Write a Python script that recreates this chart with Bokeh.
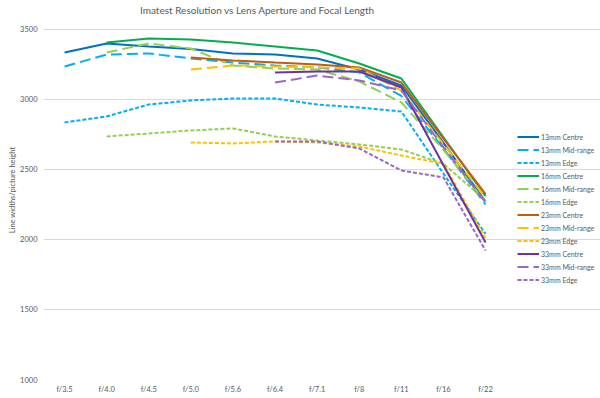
from bokeh.plotting import figure
from bokeh.models import Range1d, Legend, LegendItem, FixedTicker, Label
from bokeh.embed import file_html
from bokeh.resources import INLINE

nan = float("nan")

apertures = ["f/3.5", "f/4.0", "f/4.5", "f/5.0", "f/5.6", "f/6.4", "f/7.1", "f/8", "f/11", "f/16", "f/22"]

mm13_centre = [3336, 3400, 3379, 3360, 3329, 3321, 3293, 3214, 3100, 2690, 2270]
mm13_mid = [3236, 3321, 3329, 3293, 3264, 3243, 3229, 3193, 3025, 2650, 2250]
mm13_edge = [2836, 2879, 2964, 2993, 3007, 3007, 2964, 2943, 2914, 2470, 2040]
mm16_centre = [nan, 3407, 3436, 3429, 3407, 3379, 3350, 3257, 3150, 2730, 2310]
mm16_mid = [nan, 3336, 3400, 3364, 3243, 3221, 3214, 3129, 2979, 2640, 2270]
mm16_edge = [nan, 2736, 2757, 2779, 2793, 2736, 2707, 2679, 2643, 2540, 2280]
mm23_centre = [nan, nan, nan, 3300, 3279, 3264, 3250, 3229, 3121, 2720, 2325]
mm23_mid = [nan, nan, nan, 3214, 3243, 3236, 3229, 3221, 3064, 2680, 2300]
mm23_edge = [nan, nan, nan, 2693, 2686, 2700, 2693, 2664, 2600, 2540, 2010]
mm33_centre = [nan, nan, nan, nan, nan, 3193, 3200, 3200, 3086, 2530, 1979]
mm33_mid = [nan, nan, nan, nan, nan, 3121, 3171, 3136, 3064, 2660, 2265]
mm33_edge = [nan, nan, nan, nan, nan, 2700, 2700, 2650, 2493, 2443, 1921]

y_ticks = [1000, 1500, 2000, 2500, 3000, 3500]
title_text = "Imatest Resolution vs Lens Aperture and Focal Length"

series = [
    ("13mm Centre", mm13_centre, "#0070C0", "solid"),
    ("13mm Mid-range", mm13_mid, "#00B0F0", "11 5"),
    ("13mm Edge", mm13_edge, "#00B0F0", "4 2"),
    ("16mm Centre", mm16_centre, "#00B050", "solid"),
    ("16mm Mid-range", mm16_mid, "#92D050", "11 5"),
    ("16mm Edge", mm16_edge, "#92D050", "4 2"),
    ("23mm Centre", mm23_centre, "#C55A11", "solid"),
    ("23mm Mid-range", mm23_mid, "#FFC000", "11 5"),
    ("23mm Edge", mm23_edge, "#FFC000", "4 2"),
    ("33mm Centre", mm33_centre, "#7030A0", "solid"),
    ("33mm Mid-range", mm33_mid, "#9966CC", "11 5"),
    ("33mm Edge", mm33_edge, "#9966CC", "4 2"),
]

FONT = "Lato"
GREY = "#595959"

x_idx = list(range(len(apertures)))
n = len(apertures)
y_top = y_ticks[-1] + 207  # headroom above the top gridline for the title

p = figure(width=600, height=398, output_backend="svg", toolbar_location=None,
           x_range=Range1d(-0.5, n - 0.5 + 2.23),
           y_range=Range1d(y_ticks[0], y_top),
           min_border_left=43, min_border_right=0, min_border_top=0, min_border_bottom=19)

p.outline_line_color = None
p.background_fill_color = "white"
p.border_fill_color = "white"
p.xgrid.grid_line_color = None
p.ygrid.grid_line_color = "#D9D9D9"
p.ygrid.grid_line_width = 1
p.ygrid.bounds = (-0.5, n - 0.5)

p.xaxis.ticker = FixedTicker(ticks=x_idx)
p.xaxis.major_label_overrides = {i: a for i, a in zip(x_idx, apertures)}
p.yaxis.ticker = FixedTicker(ticks=y_ticks)
for ax in (p.xaxis, p.yaxis):
    ax.axis_line_color = None
    ax.major_tick_line_color = None
    ax.minor_tick_line_color = None
    ax.major_tick_out = 0
    ax.major_tick_in = 0
    ax.minor_tick_out = 0
    ax.minor_tick_in = 0
    ax.major_label_text_font = FONT
    ax.major_label_text_font_size = "7.5px"
    ax.major_label_text_color = GREY
p.xaxis.major_label_standoff = 5
p.yaxis.major_label_standoff = 6
p.yaxis.axis_label = "Line widths/picture height"
p.yaxis.axis_label_text_font = FONT
p.yaxis.axis_label_text_font_size = "7.5px"
p.yaxis.axis_label_text_font_style = "normal"
p.yaxis.axis_label_text_color = GREY
p.yaxis.axis_label_standoff = 0

title = Label(x=(n - 1) / 2 - 0.42, y=y_top - 70, text=title_text,
              text_font=FONT, text_font_size="10px", text_color=GREY,
              text_align="center", text_baseline="middle")
p.add_layout(title)

items = []
for name, vals, color, dash in series:
    r = p.line(x=x_idx, y=vals, line_color=color, line_width=2, line_dash=dash)
    items.append(LegendItem(label=name, renderers=[r]))

legend = Legend(items=items, location=(474, 93))
legend.border_line_color = None
legend.background_fill_alpha = 0
legend.padding = 0
legend.margin = 0
legend.spacing = 0
legend.glyph_width = 22
legend.glyph_height = 13
legend.label_height = 13
legend.label_standoff = 2
legend.label_text_font = FONT
legend.label_text_font_size = "7px"
legend.label_text_color = GREY
p.add_layout(legend)

open("out.html", "w").write(file_html(p, INLINE))
